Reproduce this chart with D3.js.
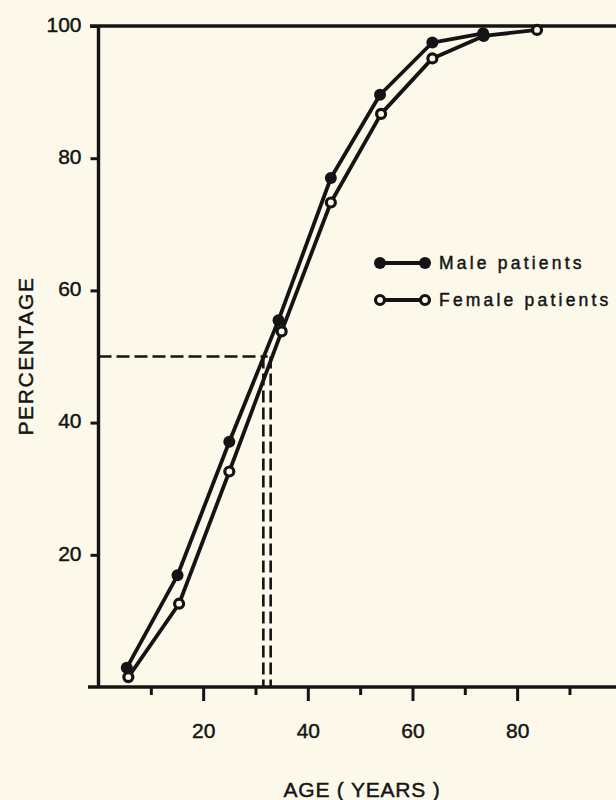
<!DOCTYPE html>
<html>
<head>
<meta charset="utf-8">
<script src="https://cdn.jsdelivr.net/npm/d3@7/dist/d3.min.js"></script>
<style>
  html, body { margin: 0; padding: 0; background: #fcf9eb; }
  svg { display: block; font-family: "Liberation Sans", Arial, Helvetica, sans-serif; }
  svg text { stroke: #141414; stroke-width: 0.45px; }
  .axis text { fill: #141414; font-size: 21px; }
  .axis line { stroke: #141414; stroke-width: 3px; }
</style>
</head>
<body>
<div class="chart"></div>
<script>
// Data (age in years, cumulative percentage)
let maleAges = [5.4, 15.1, 25, 34.4, 44.4, 53.8, 63.8, 73.5];
let maleValues = [2.9, 16.9, 37.1, 55.5, 77.0, 89.6, 97.5, 98.9];
let femaleAges = [5.7, 15.4, 25, 35, 44.4, 54, 63.8, 73.6, 83.8];
let femaleValues = [1.5, 12.6, 32.6, 53.8, 73.3, 86.7, 95.1, 98.5, 99.4];
let medianLevel = 50;
let medianAges = [31.5, 32.9];
let yTicks = [20, 40, 60, 80, 100];
let xMajorTicks = [20, 40, 60, 80];
let xMinorTicks = [10, 30, 50, 70, 90];
let seriesNames = ["Male patients", "Female patients"];

let width = 616;
let height = 800;
let ink = "#141414";
let paper = "#fcf9eb";

let svg = d3
  .select(".chart")
  .append("svg")
  .attr("width", width)
  .attr("height", height);

svg.append("rect").attr("width", width).attr("height", height).attr("fill", paper);

let x = d3.scaleLinear().domain([0, 100]).range([98.5, 621.8]);
let y = d3.scaleLinear().domain([0, 100]).range([687, 26]);

// Dashed median lines
let dash = svg.append("g").attr("stroke", ink).attr("stroke-width", 2.6).attr("fill", "none");
dash
  .append("line")
  .attr("x1", x(0))
  .attr("x2", x(medianAges[1]) - 3)
  .attr("y1", y(medianLevel))
  .attr("y2", y(medianLevel))
  .attr("stroke-dasharray", "13,5");
dash
  .selectAll(".vdash")
  .data(medianAges)
  .enter()
  .append("line")
  .attr("class", "vdash")
  .attr("x1", (d) => x(d))
  .attr("x2", (d) => x(d))
  .attr("y1", y(medianLevel))
  .attr("y2", y(0))
  .attr("stroke-dasharray", "12,5");

// Axes
let yAxis = svg
  .append("g")
  .attr("class", "axis")
  .attr("transform", `translate(${x(0)},0)`)
  .call(d3.axisLeft(y).tickValues(yTicks).tickSize(8).tickPadding(9));
yAxis.select(".domain").remove();
yAxis.selectAll("text").attr("dy", "0.25em");

let xAxis = svg
  .append("g")
  .attr("class", "axis")
  .attr("transform", `translate(0,${y(0)})`)
  .call(d3.axisBottom(x).tickValues(xMajorTicks).tickSize(14).tickPadding(22));
xAxis.select(".domain").remove();

let xMinor = svg
  .append("g")
  .attr("class", "axis")
  .attr("transform", `translate(0,${y(0)})`)
  .call(d3.axisBottom(x).tickValues(xMinorTicks).tickSize(8).tickFormat(""));
xMinor.select(".domain").remove();

// Frame lines: left axis, bottom axis, top 100 line
let frame = svg.append("g").attr("stroke", ink).attr("stroke-width", 3.4);
frame.append("line").attr("x1", x(0)).attr("x2", x(0)).attr("y1", y(100)).attr("y2", y(0) + 1);
frame.append("line").attr("x1", 88).attr("x2", width).attr("y1", y(0)).attr("y2", y(0));
frame.append("line").attr("x1", 90).attr("x2", width).attr("y1", y(100)).attr("y2", y(100));

// Series
let male = maleAges.map((a, i) => ({ age: a, value: maleValues[i] }));
let female = femaleAges.map((a, i) => ({ age: a, value: femaleValues[i] }));
let line = d3
  .line()
  .x((d) => x(d.age))
  .y((d) => y(d.value));

[female, male].forEach(function (data) {
  svg
    .append("path")
    .datum(data)
    .attr("d", line)
    .attr("fill", "none")
    .attr("stroke", ink)
    .attr("stroke-width", 3.8)
    .attr("stroke-linejoin", "round");
});

svg
  .append("g")
  .selectAll("circle")
  .data(female)
  .enter()
  .append("circle")
  .attr("cx", (d) => x(d.age))
  .attr("cy", (d) => y(d.value))
  .attr("r", 4.5)
  .attr("fill", paper)
  .attr("stroke", ink)
  .attr("stroke-width", 3.2);

svg
  .append("g")
  .selectAll("circle")
  .data(male)
  .enter()
  .append("circle")
  .attr("cx", (d) => x(d.age))
  .attr("cy", (d) => y(d.value))
  .attr("r", 6)
  .attr("fill", ink);

// Legend
let legend = svg
  .append("g")
  .selectAll("g")
  .data(seriesNames)
  .enter()
  .append("g")
  .attr("transform", (d, i) => `translate(0,${263 + i * 37})`);

legend
  .append("line")
  .attr("x1", 380)
  .attr("x2", 425)
  .attr("stroke", ink)
  .attr("stroke-width", 3.8);

legend.each(function (d, i) {
  let g = d3.select(this);
  [380, 425].forEach(function (cx) {
    if (i === 0) {
      g.append("circle").attr("cx", cx).attr("r", 6).attr("fill", ink);
    } else {
      g.append("circle")
        .attr("cx", cx)
        .attr("r", 4.5)
        .attr("fill", paper)
        .attr("stroke", ink)
        .attr("stroke-width", 3.2);
    }
  });
});

legend
  .append("text")
  .attr("x", 439)
  .attr("y", 6)
  .attr("fill", ink)
  .style("font-size", "17.5px")
  .style("letter-spacing", "3.2px")
  .text((d) => d);

// Axis titles
svg
  .append("text")
  .attr("x", 362)
  .attr("y", 797)
  .attr("text-anchor", "middle")
  .attr("fill", ink)
  .style("font-size", "21px")
  .style("letter-spacing", "0.8px")
  .text("AGE ( YEARS )");

svg
  .append("text")
  .attr("transform", "translate(33,356) rotate(-90)")
  .attr("text-anchor", "middle")
  .attr("fill", ink)
  .style("font-size", "21px")
  .style("letter-spacing", "1.6px")
  .text("PERCENTAGE");
</script>
</body>
</html>
